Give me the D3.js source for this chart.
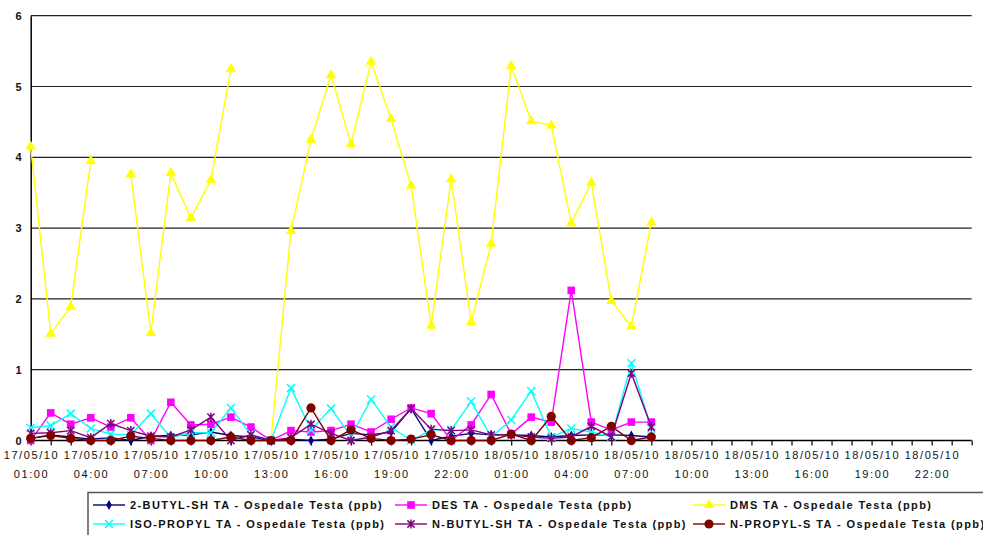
<!DOCTYPE html>
<html>
<head>
<meta charset="utf-8">
<script src="https://cdn.jsdelivr.net/npm/d3@7"></script>
<style>
  html, body { margin: 0; padding: 0; background: #fff; }
  svg text { font-family: "Liberation Sans", Arial, Helvetica, sans-serif; fill: #111; }
</style>
</head>
<body>
<svg id="chart" width="983" height="535"></svg>
<script>
// ---- data ----
const times = [
  "2010-05-17T01:00","2010-05-17T02:00","2010-05-17T03:00","2010-05-17T04:00",
  "2010-05-17T05:00","2010-05-17T06:00","2010-05-17T07:00","2010-05-17T08:00",
  "2010-05-17T09:00","2010-05-17T10:00","2010-05-17T11:00","2010-05-17T12:00",
  "2010-05-17T13:00","2010-05-17T14:00","2010-05-17T15:00","2010-05-17T16:00",
  "2010-05-17T17:00","2010-05-17T18:00","2010-05-17T19:00","2010-05-17T20:00",
  "2010-05-17T21:00","2010-05-17T22:00","2010-05-17T23:00","2010-05-18T00:00",
  "2010-05-18T01:00","2010-05-18T02:00","2010-05-18T03:00","2010-05-18T04:00",
  "2010-05-18T05:00","2010-05-18T06:00","2010-05-18T07:00","2010-05-18T08:00"
];
const butyl2SH = [0.03,0.08,0.05,0.02,0.04,0.00,0.06,0.07,0.08,0.12,0.07,0.05,0.00,0.02,0.00,0.02,0.10,0.08,0.12,0.45,0.00,0.06,0.10,0.08,0.08,0.07,0.05,0.07,0.08,0.08,0.07,0.05];
const des       = [0.00,0.39,0.23,0.32,0.19,0.32,0.00,0.54,0.22,0.23,0.33,0.19,0.00,0.14,0.12,0.14,0.23,0.12,0.30,0.46,0.38,0.00,0.22,0.65,0.09,0.33,0.26,2.12,0.26,0.15,0.26,0.26];
const dms       = [4.15,1.51,1.89,3.95,null,3.76,1.52,3.78,3.14,3.68,5.25,null,0.00,2.96,4.25,5.16,4.19,5.35,4.54,3.60,1.62,3.69,1.67,2.78,5.29,4.51,4.45,3.07,3.64,1.97,1.61,3.08];
const isoPropyl = [0.18,0.21,0.38,0.17,0.09,0.08,0.38,0.04,0.11,0.11,0.46,0.08,0.00,0.74,0.15,0.45,0.06,0.58,0.19,0.00,0.15,0.15,0.55,0.05,0.29,0.70,0.05,0.17,0.12,0.05,1.09,0.17];
const nButylSH  = [0.10,0.11,0.14,0.04,0.24,0.14,0.06,0.05,0.15,0.33,0.00,0.08,0.00,0.04,0.23,0.10,0.00,0.05,0.14,0.45,0.16,0.14,0.15,0.08,0.08,0.05,0.03,0.05,0.20,0.05,0.95,0.19];
const nPropylS  = [0.03,0.07,0.03,0.00,0.00,0.06,0.03,0.00,0.00,0.00,0.05,0.00,0.00,0.00,0.46,0.00,0.15,0.03,0.00,0.02,0.08,0.00,0.00,0.00,0.09,0.00,0.34,0.00,0.04,0.20,0.00,0.05];

const seriesNames = [
  "2-BUTYL-SH TA - Ospedale Testa (ppb)",
  "DES TA - Ospedale Testa (ppb)",
  "DMS TA - Ospedale Testa (ppb)",
  "ISO-PROPYL TA - Ospedale Testa (ppb)",
  "N-BUTYL-SH TA - Ospedale Testa (ppb)",
  "N-PROPYL-S TA - Ospedale Testa (ppb)"
];
const seriesColors = ["#000080","#FF00FF","#FFFF00","#00FFFF","#800080","#800000"];
const seriesMarkers = ["diamond","square","triangle","x","star","circle"];
const seriesValues = [butyl2SH, des, dms, isoPropyl, nButylSH, nPropylS];

const xDomain = ["2010-05-17T01:00", "2010-05-19T00:00"];
const xTickDate = ["17/05/10","17/05/10","17/05/10","17/05/10","17/05/10","17/05/10","17/05/10","17/05/10",
                   "18/05/10","18/05/10","18/05/10","18/05/10","18/05/10","18/05/10","18/05/10","18/05/10"];
const xTickTime = ["01:00","04:00","07:00","10:00","13:00","16:00","19:00","22:00",
                   "01:00","04:00","07:00","10:00","13:00","16:00","19:00","22:00"];
const yTicks = [0,1,2,3,4,5,6];

(function () {
// ---- layout ----
const parse = s => new Date(s + ":00Z");
const svg = d3.select("#chart");
const pLeft = 30.7, pRight = 971.7, pTop = 15.7, pBottom = 440.5;

const x = d3.scaleUtc().domain(xDomain.map(parse)).range([pLeft, pRight]);
const y = d3.scaleLinear().domain([0, 6]).range([pBottom, pTop]);

// gridlines
svg.append("g").selectAll("line").data(yTicks.filter(v => v > 0)).join("line")
  .attr("x1", pLeft).attr("x2", pRight)
  .attr("y1", d => y(d)).attr("y2", d => y(d))
  .attr("stroke", "#222").attr("stroke-width", 1.2);

// y axis
const yAxis = d3.axisLeft(y).tickValues(yTicks).tickSize(0).tickPadding(9).tickFormat(d3.format("d"));
const gy = svg.append("g").attr("transform", `translate(${pLeft},0)`).call(yAxis);
gy.select(".domain").attr("stroke", "#000").attr("stroke-width", 1.5);
gy.selectAll("text").attr("font-size", 11).attr("font-weight", "bold").attr("fill", "#222")
  .style("font-family", "'Liberation Sans', Arial, sans-serif");

// x axis: hourly ticks
const hourly = d3.utcHour.range(parse(xDomain[0]), d3.utcHour.offset(parse(xDomain[1]), 1));
const xAxis = d3.axisBottom(x).tickValues(hourly).tickSize(5).tickFormat("");
const gx = svg.append("g").attr("transform", `translate(0,${pBottom})`).call(xAxis);
gx.select(".domain").attr("stroke", "#000").attr("stroke-width", 1.5).attr("d", `M${pLeft},0H${pRight}`);
gx.selectAll(".tick line").attr("stroke", "#000").attr("stroke-width", 1.2);

// x labels every 3 hours
const labelDates = xTickTime.map((t, i) => parse((i < 8 ? "2010-05-17T" : "2010-05-18T") + t));
const lbl = svg.append("g");
lbl.selectAll("text.d").data(labelDates).join("text")
  .attr("class", "d")
  .attr("x", d => x(d) + 0.8).attr("y", 459)
  .attr("text-anchor", "middle").attr("font-size", 11).attr("letter-spacing", 1.6).attr("fill", "#222")
  .text((d, i) => xTickDate[i]);
lbl.selectAll("text.t").data(labelDates).join("text")
  .attr("class", "t")
  .attr("x", d => x(d) + 0.8).attr("y", 478)
  .attr("text-anchor", "middle").attr("font-size", 11).attr("letter-spacing", 1.6).attr("fill", "#222")
  .text((d, i) => xTickTime[i]);

// markers
function drawMarker(g, type, color) {
  if (type === "diamond") {
    g.append("path").attr("d", d3.symbol(d3.symbolDiamond, 28)()).attr("fill", color);
  } else if (type === "square") {
    g.append("rect").attr("x", -3.8).attr("y", -3.8).attr("width", 7.6).attr("height", 7.6).attr("fill", color);
  } else if (type === "triangle") {
    g.append("path").attr("d", d3.symbol(d3.symbolTriangle, 48)()).attr("fill", color);
  } else if (type === "x") {
    g.append("path").attr("d", "M-4,-4L4,4M-4,4L4,-4").attr("stroke", color).attr("stroke-width", 1.5).attr("fill", "none");
  } else if (type === "star") {
    g.append("path").attr("d", "M-3.6,-3.6L3.6,3.6M-3.6,3.6L3.6,-3.6M0,-4.5L0,4.5").attr("stroke", color).attr("stroke-width", 1.5).attr("fill", "none");
  } else if (type === "circle") {
    g.append("circle").attr("r", 4.6).attr("fill", color);
  }
}

const line = d3.line()
  .defined(d => d.v !== null)
  .x(d => x(d.t)).y(d => y(d.v));

seriesValues.forEach((vals, si) => {
  const pts = vals.map((v, i) => ({ t: parse(times[i]), v }));
  const g = svg.append("g");
  g.append("path").datum(pts).attr("d", line)
    .attr("fill", "none").attr("stroke", seriesColors[si]).attr("stroke-width", 1.4);
  g.selectAll("g.m").data(pts.filter(p => p.v !== null)).join("g")
    .attr("class", "m")
    .attr("transform", p => `translate(${x(p.t)},${y(p.v)})`)
    .each(function () { drawMarker(d3.select(this), seriesMarkers[si], seriesColors[si]); });
});

// legend
const leg = svg.append("g");
leg.append("rect").attr("x", 88).attr("y", 492.5).attr("width", 900).attr("height", 50)
  .attr("fill", "none").attr("stroke", "#555").attr("stroke-width", 1.5);
const colX = [93, 395, 693];
const rowY = [505, 524];
seriesNames.forEach((name, i) => {
  const cx = colX[i % 3], cy = rowY[Math.floor(i / 3)];
  const g = leg.append("g");
  g.append("line").attr("x1", cx).attr("x2", cx + 32).attr("y1", cy).attr("y2", cy)
    .attr("stroke", seriesColors[i]).attr("stroke-width", 1.4);
  const m = g.append("g").attr("transform", `translate(${cx + 16},${cy})`);
  drawMarker(m, seriesMarkers[i], seriesColors[i]);
  g.append("text").attr("x", cx + 37).attr("y", cy + 4)
    .attr("font-size", 11).attr("font-weight", "bold").attr("letter-spacing", 1.4).attr("fill", "#333")
    .text(name);
});
})();
</script>
</body>
</html>
